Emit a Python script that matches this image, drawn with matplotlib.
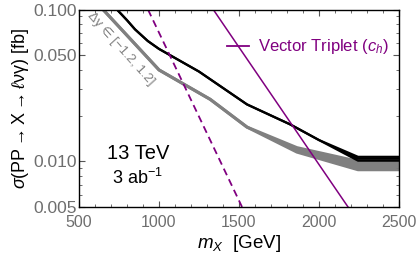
import numpy as np
import matplotlib
matplotlib.use("Agg")
import matplotlib.pyplot as plt
from matplotlib.ticker import FixedLocator, NullFormatter, MultipleLocator

plt.rcParams['font.family'] = ['Liberation Sans', 'DejaVu Sans']
plt.rcParams['mathtext.fontset'] = 'custom'
plt.rcParams['mathtext.rm'] = 'Liberation Sans'
plt.rcParams['mathtext.it'] = 'Liberation Sans:italic'
plt.rcParams['mathtext.sf'] = 'Liberation Sans'

# black limit (upper/lower edge of the band)
m_black = [737, 800, 850, 930, 1000, 1250, 1550, 1820, 2000, 2244, 2500]
black_hi = [0.100, 0.085, 0.074, 0.062, 0.055, 0.039, 0.0237, 0.0175, 0.0138, 0.0107, 0.0107]
black_lo = [0.100, 0.085, 0.074, 0.062, 0.055, 0.039, 0.0237, 0.0175, 0.0138, 0.0101, 0.0101]

# gray limit, Delta y in [-1.2, 1.2]
m_gray = [650, 1000, 1320, 1550, 1862, 2244, 2500]
gray_hi = [0.100, 0.040, 0.0256, 0.0168, 0.0123, 0.0100, 0.0100]
gray_lo = [0.100, 0.040, 0.0256, 0.0168, 0.0115, 0.0088, 0.0088]

# vector triplet predictions
m_vt = [1300, 1500, 1750, 2000, 2250]
vt_solid = [0.1149, 0.0564, 0.0232, 0.00952, 0.00392]
m_vt_dash = [900, 1000, 1200, 1400, 1550]
vt_dash = [0.117, 0.0704, 0.0254, 0.00917, 0.00427]

y_ticks = [0.005, 0.010, 0.050, 0.100]
y_labels = ['0.005', '0.010', '0.050', '0.100']
x_ticks = [500, 1000, 1500, 2000, 2500]

purple = '#800080'
gray = '#808080'
tick_gray = '#6e6e6e'

fig = plt.figure(figsize=(4.2, 2.63), dpi=100)
ax = fig.add_axes([79 / 420, 56 / 263, 320 / 420, 197.5 / 263])

ax.fill_between(m_gray, gray_lo, gray_hi, color=gray, lw=0)
ax.plot(m_gray, gray_hi, color=gray, lw=2.2, solid_joinstyle='round')
ax.plot(m_gray, gray_lo, color=gray, lw=2.2, solid_joinstyle='round')

ax.fill_between(m_black, black_lo, black_hi, color='black', lw=0)
ax.plot(m_black, black_hi, color='black', lw=1.6)
ax.plot(m_black, black_lo, color='black', lw=1.6)

ax.plot(m_vt_dash, vt_dash, color=purple, lw=1.3, ls=(0, (4, 2.5)))
ax.plot(m_vt, vt_solid, color=purple, lw=1.1)

ax.set_yscale('log')
ax.set_xlim(500, 2500)
ax.set_ylim(0.005, 0.1)

ax.yaxis.set_major_locator(FixedLocator(y_ticks))
ax.set_yticklabels(y_labels)
ax.yaxis.set_minor_locator(FixedLocator([0.006, 0.007, 0.008, 0.009, 0.02, 0.03, 0.04,
                                         0.06, 0.07, 0.08, 0.09]))
ax.yaxis.set_minor_formatter(NullFormatter())
ax.xaxis.set_major_locator(FixedLocator(x_ticks))
ax.xaxis.set_minor_locator(MultipleLocator(100))

ax.tick_params(which='both', direction='in', top=True, right=True,
               labelcolor=tick_gray, color='#555555')
ax.tick_params(axis='y', labelsize=12.5, pad=1.5)
ax.tick_params(axis='x', labelsize=11.5, pad=6)
ax.tick_params(which='major', length=4, width=0.8)
ax.tick_params(which='minor', length=2.5, width=0.6)
for s in ax.spines.values():
    s.set_linewidth(1.0)
    s.set_color('black')

ax.set_xlabel('$m_X$  [GeV]', fontsize=13.5, labelpad=2)
ax.set_ylabel(r'$\sigma$(PP $\!\!\rightarrow\!\!$ X $\!\!\rightarrow\!\!$ $\ell$νγ) [fb]',
              fontsize=13, labelpad=2)

ax.text(0.184, 0.273, '13 TeV', transform=ax.transAxes, fontsize=14.5,
        ha='center', va='center')
ax.text(0.184, 0.146, '3 ab$^{-1}$', transform=ax.transAxes, fontsize=13,
        ha='center', va='center')

ax.plot([0.4625, 0.531], [0.813, 0.813], transform=ax.transAxes, color=purple, lw=1.3)
ax.text(0.559, 0.813, 'Vector Triplet ($c_h$)', transform=ax.transAxes,
        fontsize=12, color=purple, ha='left', va='center')

ax.text(0.131, 0.80, 'Δy ∈ [−1.2, 1.2]', transform=ax.transAxes, fontsize=9.5,
        color=gray, rotation=-48, ha='center', va='center',
        rotation_mode='anchor')

fig.savefig('out.png', dpi=100)
